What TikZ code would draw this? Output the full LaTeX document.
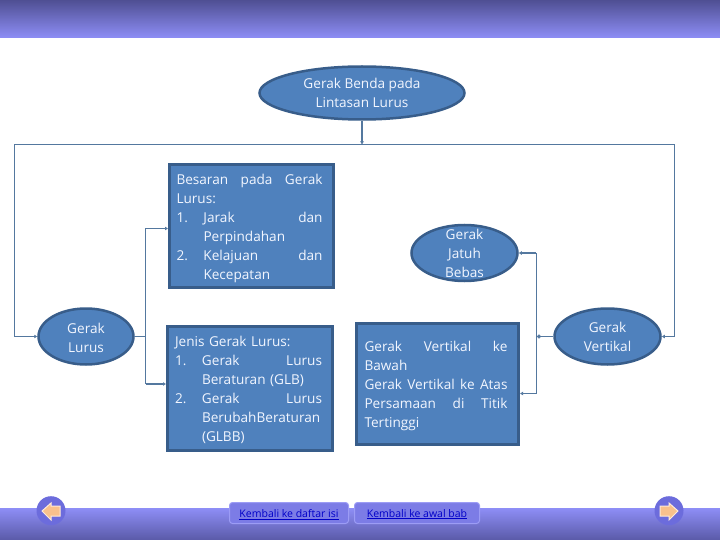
\documentclass[tikz,border=0pt]{standalone}
\usepackage{fontspec}
\setmainfont{Open Sans}
\usetikzlibrary{arrows.meta,shapes.geometric}
\newcommand{\rata}[2]{\makebox[#1][s]{\spaceskip=0pt\relax #2}}
\newcommand{\butir}[2]{\makebox[27pt][l]{#1}#2}

\begin{document}
\begin{tikzpicture}[x=1pt,y=-1pt]
 \tikzset{oval/.style = {shape=ellipse,draw=boxline,fill=boxfill,line width=2.5pt,inner sep=0pt}}
 \tikzset{ovaltext/.style = {text=boxtext,align=center,inner sep=0pt,font=\fontsize{13.6}{19}\selectfont}}
 \tikzset{kotak/.style = {shape=rectangle,draw=boxline,fill=boxfill,line width=3pt,inner sep=0pt}}
 \tikzset{kotaktext/.style = {text=boxtext,align=left,inner sep=0pt,yshift=-2pt,font=\fontsize{13.6}{19}\selectfont}}
 \tikzset{tombol/.style = {shape=rectangle,rounded corners=3pt,draw=barlight,fill=barmid,line width=1pt,text=linkblue,text height=10pt,text depth=1pt,font=\fontsize{10.5}{12}\selectfont}}
 \tikzset{bulat/.style = {shape=circle,fill=barbtn,minimum size=29pt,inner sep=0pt}}
 \tikzset{panah/.style = {draw=arrowline,fill=arrowfill,line width=1pt,line join=miter}}
 \tikzset{edge/.style = {draw=edgeline,line width=1pt}}
 \tikzset{thick edge/.style = {draw=edgeline,line width=1.9pt,-{Latex[length=3pt,width=4pt]}}}
 \definecolor{boxfill}{HTML}{4F81BD}
 \definecolor{boxline}{HTML}{385D8A}
 \definecolor{boxtext}{HTML}{F2F6FF}
 \definecolor{edgeline}{HTML}{54789F}
 \definecolor{bartop}{HTML}{4F4F93}
 \definecolor{barlow}{HTML}{8E8EF6}
 \definecolor{barbot}{HTML}{5A5AA8}
 \definecolor{barmid}{HTML}{7C7CE6}
 \definecolor{barlight}{HTML}{9C9CF5}
 \definecolor{barbtn}{HTML}{6C6CDC}
 \definecolor{arrowfill}{HTML}{F9C18C}
 \definecolor{arrowline}{HTML}{FDEADA}
 \definecolor{linkblue}{HTML}{0000C8}
 \useasboundingbox (0,0) rectangle (720,540);
 % bars
 \shade[top color=bartop,bottom color=barlow] (0,0) rectangle (720,38);
 \shade[top color=barlow,bottom color=barbot] (0,508) rectangle (720,540);
 % nodes
 \node[oval,minimum width=205pt,minimum height=53pt,label={[ovaltext]center:Gerak Benda pada\\Lintasan Lurus}] (utama) at (362,93) {};
 \node[oval,minimum width=95pt,minimum height=56pt,label={[ovaltext,yshift=-1.5pt]center:Gerak\\Lurus}] (lurus) at (86,336.5) {};
 \node[oval,minimum width=106pt,minimum height=56pt,label={[ovaltext]center:Gerak\\Jatuh\\Bebas}] (jatuh) at (464.5,253) {};
 \node[oval,minimum width=106pt,minimum height=56pt,label={[ovaltext]center:Gerak\\Vertikal}] (vertikal) at (607.5,336.5) {};
 \node[kotak,minimum width=164pt,minimum height=123pt,label={[kotaktext,text width=150pt]center:\rata{146pt}{Besaran pada Gerak}\\Lurus:\\\butir{1.}{\rata{119pt}{Jarak dan}}\\\butir{}{Perpindahan}\\\butir{2.}{\rata{119pt}{Kelajuan dan}}\\\butir{}{Kecepatan}}] (besaran) at (251.5,226) {};
 \node[kotak,minimum width=165pt,minimum height=124pt,label={[kotaktext,text width=150pt]center:Jenis Gerak Lurus:\\\butir{1.}{\rata{120pt}{Gerak Lurus}}\\\butir{}{Beraturan (GLB)}\\\butir{2.}{\rata{120pt}{Gerak Lurus}}\\\butir{}{BerubahBeraturan}\\\butir{}{(GLBB)}}] (jenis) at (250,388) {};
 \node[kotak,minimum width=162pt,minimum height=121pt,label={[kotaktext,text width=146pt]center:\rata{143pt}{Gerak Vertikal ke}\\Bawah\\\rata{143pt}{Gerak Vertikal ke Atas}\\\rata{143pt}{Persamaan di Titik}\\Tertinggi}] (vertikalbox) at (437.5,384) {};
 \node[tombol,minimum width=119pt,minimum height=21pt] (daftar) at (289,513) {\underline{Kembali ke daftar isi}};
 \node[tombol,minimum width=125pt,minimum height=21pt,text height=9pt] (awal) at (417,513) {\underline{Kembali ke awal bab}};
 \node[bulat] (kiri) at (51,510.7) {};
 \node[bulat] (kanan) at (669,510.7) {};
 % arrow glyphs
 \draw[panah] (42,511) -- (51,503) -- (51,506) -- (60,506) -- (60,516) -- (51,516) -- (51,520) -- cycle;
 \draw[panah] (678,511) -- (669,503) -- (669,506) -- (660,506) -- (660,516) -- (669,516) -- (669,520) -- cycle;
 % connectors
 \coordinate (atas) at (362,144.5);
 \coordinate (sudutkiri) at (14.5,336.5);
 \coordinate (sudutkanan) at (674.5,336.5);
 \coordinate (cabangkiri) at (145.5,336.5);
 \coordinate (cabangkanan) at (536,336.5);
 \coordinate (tikbesaran) at (145.5,228.5);
 \coordinate (tikjenis) at (145.5,384);
 \coordinate (tikjatuh) at (536,253);
 \coordinate (tikvertikal) at (536,393.5);
 \draw[thick edge] (utama) -- (atas);
 \draw[edge] (sudutkiri) |- (atas) -| (sudutkanan);
 \draw[thick edge] (sudutkiri) -- (lurus.west);
 \draw[thick edge] (sudutkanan) -- (vertikal.east);
 \draw[edge] (lurus.east) -- (cabangkiri);
 \draw[edge] (tikbesaran) -- (tikjenis);
 \draw[thick edge] (tikbesaran) -- (besaran.west |- tikbesaran);
 \draw[thick edge] (tikjenis) -- (jenis.west |- tikjenis);
 \draw[edge] (vertikal.west) -- (cabangkanan);
 \draw[edge] (tikjatuh) -- (tikvertikal);
 \draw[thick edge] (tikjatuh) -- (jatuh.east);
 \draw[thick edge] (tikvertikal) -- (vertikalbox.east |- tikvertikal);
 \filldraw[edgeline] (cabangkanan) ++(3pt,0) circle (1.8pt);
\end{tikzpicture}
\end{document}
